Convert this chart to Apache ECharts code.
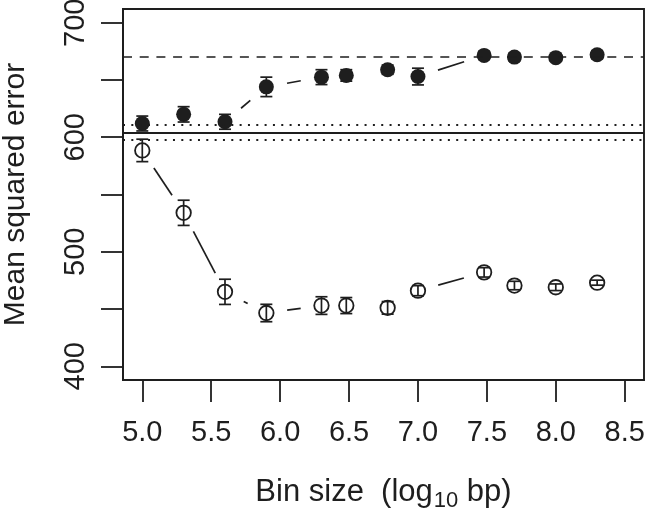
<!DOCTYPE html>
<html>
<head>
<meta charset="utf-8">
<script src="https://cdn.jsdelivr.net/npm/echarts@6/dist/echarts.min.js"></script>
<style>html,body{margin:0;padding:0;background:#fff;}#c{width:646px;height:511px;}</style>
</head>
<body>
<div id="c"></div>
<script>
// ---- data ----
const binSizes = [5.0, 5.3, 5.6, 5.9, 6.3, 6.48, 6.78, 7.0, 7.48, 7.7, 8.0, 8.3];
const filledMSE = [612, 620, 613.5, 644, 652.5, 654, 659, 653, 671.5, 670, 669.5, 672];
const filledErr = [6.5, 6.7, 6.5, 8.5, 6.5, 5, 4, 7.3, 3.5, 3.5, 3, 3.5];
const openMSE = [588.5, 534, 465, 446.5, 453, 453, 451, 466, 482, 470.5, 469, 473];
const openErr = [9.8, 11, 11, 7.6, 7.7, 7, 5.5, 4.4, 4.1, 3.7, 2.9, 2.2];
const dashedRef = [670.3];
const solidRef = [603.8];
const dottedRefs = [611.3, 597.8];
const xTicks = [5.0, 5.5, 6.0, 6.5, 7.0, 7.5, 8.0, 8.5];
const yTicks = [400, 450, 500, 550, 600, 650, 700];
const yLabels = [400, 500, 600, 700];

const INK = '#1e1e1e';
const FONT = 'Liberation Sans, Arial, Helvetica, sans-serif';

function pairs(ys) { return binSizes.map((x, i) => [x, ys[i]]); }
function errData(ys, es) { return binSizes.map((x, i) => [x, ys[i], es[i]]); }

function segRender(ys) {
  const GAP = 21;
  return function (params, api) {
    const i = params.dataIndex;
    if (i >= binSizes.length - 1) return null;
    const p0 = api.coord([binSizes[i], ys[i]]);
    const p1 = api.coord([binSizes[i + 1], ys[i + 1]]);
    const dx = p1[0] - p0[0], dy = p1[1] - p0[1];
    const d = Math.sqrt(dx * dx + dy * dy);
    if (d <= 2 * GAP + 1) return null;
    const ux = dx / d, uy = dy / d;
    return {
      type: 'line',
      shape: { x1: p0[0] + ux * GAP, y1: p0[1] + uy * GAP, x2: p1[0] - ux * GAP, y2: p1[1] - uy * GAP },
      style: { stroke: INK, lineWidth: 1.7 }
    };
  };
}

function errRender(params, api) {
  const x = api.value(0), y = api.value(1), e = api.value(2);
  const top = api.coord([x, y + e]);
  const bot = api.coord([x, y - e]);
  const hw = 6;
  const st = { stroke: INK, lineWidth: 1.7 };
  return {
    type: 'group',
    children: [
      { type: 'line', shape: { x1: top[0], y1: top[1], x2: bot[0], y2: bot[1] }, style: st },
      { type: 'line', shape: { x1: top[0] - hw, y1: top[1], x2: top[0] + hw, y2: top[1] }, style: st },
      { type: 'line', shape: { x1: bot[0] - hw, y1: bot[1], x2: bot[0] + hw, y2: bot[1] }, style: st }
    ]
  };
}

const refMarkData = []
  .concat(dashedRef.map(v => ({ yAxis: v, lineStyle: { type: [9, 7.7], width: 1.7, color: INK } })))
  .concat(solidRef.map(v => ({ yAxis: v, lineStyle: { type: 'solid', width: 1.8, color: INK } })))
  .concat(dottedRefs.map(v => ({ yAxis: v, lineStyle: { type: [2, 6.33], width: 2, color: INK } })));

const chart = echarts.init(document.getElementById('c'), null, { renderer: 'canvas' });
chart.setOption({
  animation: false,
  backgroundColor: '#fff',
  grid: { left: 123, right: 2, top: 9, bottom: 131, outerBoundsMode: 'none', containLabel: false,
    show: true, borderColor: INK, borderWidth: 1.9, backgroundColor: 'transparent' },
  xAxis: {
    type: 'value', min: 4.86, max: 8.64,
    axisLine: { show: true, lineStyle: { color: INK, width: 1.9 } },
    axisTick: { show: true, length: 22, lineStyle: { color: INK, width: 1.8 }, customValues: xTicks },
    axisLabel: { show: true, margin: 38, fontSize: 29, color: INK, fontFamily: FONT, customValues: xTicks, formatter: v => v.toFixed(1) },
    splitLine: { show: false },
    name: '{m|Bin size  (log}{sub|10}{m| bp)}',
    nameLocation: 'middle', nameGap: 97,
    nameTextStyle: { fontSize: 31, color: INK, fontFamily: FONT,
      rich: {
        m: { fontSize: 31, color: INK, fontFamily: FONT, lineHeight: 31, verticalAlign: 'top' },
        sub: { fontSize: 22, color: INK, fontFamily: FONT, lineHeight: 22, verticalAlign: 'top', padding: [13, 0, 0, 1] }
      } }
  },
  yAxis: {
    type: 'value', min: 388, max: 712,
    axisLine: { show: true, lineStyle: { color: INK, width: 1.9 } },
    axisTick: { show: true, length: 22, lineStyle: { color: INK, width: 1.8 }, customValues: yTicks },
    axisLabel: { show: true, margin: 33, rotate: 90, fontSize: 29, color: INK, fontFamily: FONT, customValues: yLabels },
    splitLine: { show: false },
    name: 'Mean squared error', nameLocation: 'middle', nameGap: 92,
    nameTextStyle: { fontSize: 30, color: INK, fontFamily: FONT }
  },
  series: [
    { type: 'line', data: [], markLine: { silent: true, symbol: 'none', label: { show: false }, data: refMarkData }, z: 1 },
    { type: 'custom', data: pairs(filledMSE), renderItem: segRender(filledMSE), z: 2 },
    { type: 'custom', data: pairs(openMSE), renderItem: segRender(openMSE), z: 2 },
    { type: 'custom', data: errData(filledMSE, filledErr), renderItem: errRender, z: 3 },
    { type: 'scatter', data: pairs(filledMSE), symbol: 'circle', symbolSize: 15,
      itemStyle: { color: INK, opacity: 1 }, z: 4 },
    { type: 'scatter', data: pairs(openMSE), symbol: 'circle', symbolSize: 14.5,
      itemStyle: { color: 'rgba(0,0,0,0)', borderColor: INK, borderWidth: 1.8, opacity: 1 }, z: 4 },
    { type: 'custom', data: errData(openMSE, openErr), renderItem: errRender, z: 5 }
  ]
});
</script>
</body>
</html>
